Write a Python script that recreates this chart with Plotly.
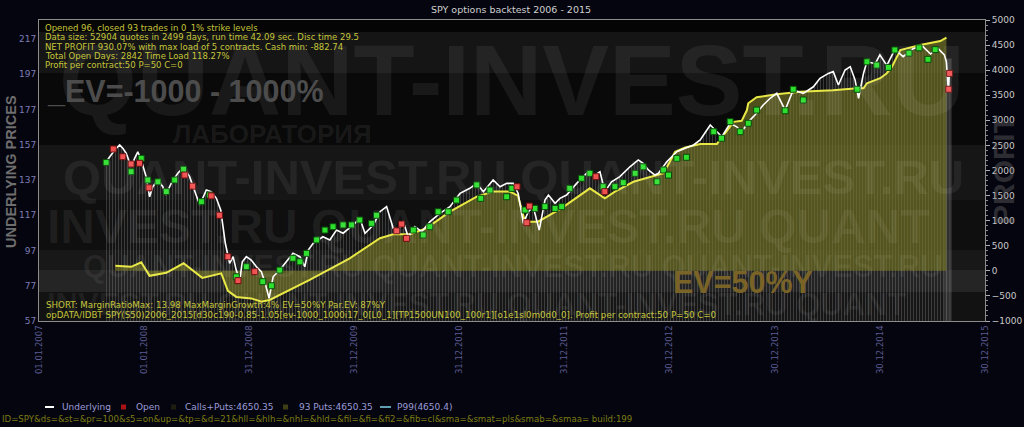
import plotly.graph_objects as go

# ---------------- data ----------------
price_dates = [
    "2007-08-22", "2007-09-03", "2007-09-21", "2007-10-08", "2007-10-19", "2007-10-31", "2007-11-17", "2007-11-29", "2007-12-10", "2007-12-22",
    "2008-01-08", "2008-01-20", "2008-01-31", "2008-02-18", "2008-03-06", "2008-03-16", "2008-04-04", "2008-04-27", "2008-05-17", "2008-06-07",
    "2008-06-30", "2008-07-12", "2008-08-04", "2008-08-21", "2008-09-08", "2008-09-23", "2008-10-01", "2008-10-09", "2008-10-24", "2008-11-05",
    "2008-11-16", "2008-11-28", "2008-12-07", "2008-12-21",
    "2009-01-07", "2009-01-25", "2009-02-11", "2009-02-23", "2009-03-10", "2009-03-24", "2009-04-16", "2009-05-09", "2009-06-01", "2009-06-25",
    "2009-07-12", "2009-07-24", "2009-08-10", "2009-09-13", "2009-10-07", "2009-10-30", "2009-11-22", "2009-12-27",
    "2010-01-19", "2010-02-06", "2010-03-07", "2010-03-30", "2010-04-22", "2010-05-15", "2010-06-01", "2010-06-19", "2010-07-06", "2010-07-29",
    "2010-08-22", "2010-09-19", "2010-10-24", "2010-11-28",
    "2011-01-02", "2011-02-05", "2011-03-01", "2011-03-24", "2011-04-27", "2011-05-21", "2011-06-13", "2011-07-06", "2011-07-23", "2011-08-10",
    "2011-08-27", "2011-09-13", "2011-10-04", "2011-10-24", "2011-11-05", "2011-11-28", "2011-12-15",
    "2012-01-07", "2012-02-11", "2012-03-22", "2012-04-14", "2012-05-02", "2012-05-19", "2012-06-11", "2012-07-10", "2012-08-14", "2012-09-12",
    "2012-09-29", "2012-10-17", "2012-11-09", "2012-11-21", "2012-12-20",
    "2013-01-24", "2013-02-22", "2013-03-23", "2013-04-15", "2013-05-20", "2013-06-06", "2013-06-29", "2013-07-28", "2013-08-20", "2013-09-06",
    "2013-10-05", "2013-10-22", "2013-11-20", "2013-12-14",
    "2014-01-06", "2014-02-04", "2014-03-04", "2014-04-08", "2014-05-13", "2014-06-05", "2014-07-04", "2014-07-21", "2014-08-08", "2014-08-31",
    "2014-09-18", "2014-10-05", "2014-10-17", "2014-11-03", "2014-11-15", "2014-12-14", "2014-12-30",
    "2015-01-23", "2015-02-20", "2015-03-21", "2015-04-24", "2015-05-27", "2015-06-24", "2015-07-18", "2015-08-04", "2015-08-11", "2015-08-18",
    "2015-08-25", "2015-08-28",
]
price_values = [
    147.4, 150.2, 154.0, 156.9, 155.0, 152.1, 144.5, 149.3, 153.0, 148.3,
    138.9, 127.5, 133.2, 137.0, 133.2, 128.5, 135.1, 140.8, 144.2, 138.9,
    128.5, 122.8, 131.3, 130.4, 126.6, 120.0, 110.5, 101.1, 89.7, 93.5,
    85.9, 80.2, 90.6, 93.5,
    91.6, 87.8, 85.0, 79.3, 69.9, 82.1, 85.9, 90.6, 95.4, 93.5,
    87.8, 97.3, 101.1, 104.8, 103.0, 108.6, 106.8, 111.5,
    115.3, 106.8, 111.5, 119.0, 121.9, 109.6, 108.6, 113.3, 104.8, 110.5,
    107.7, 113.3, 118.1, 121.9,
    129.4, 132.3, 135.1, 130.4, 137.0, 133.2, 135.1, 135.1, 129.4, 112.4,
    119.0, 121.9, 108.6, 125.6, 128.5, 123.8, 126.6,
    128.5, 135.1, 141.7, 139.8, 141.7, 130.4, 136.0, 138.9, 144.5, 148.4,
    146.5, 142.7, 139.8, 140.8, 147.4,
    153.1, 155.0, 156.9, 159.7, 168.2, 165.4, 161.6, 169.2, 167.2, 164.4,
    171.0, 173.9, 179.6, 183.4,
    186.2, 176.7, 188.1, 186.2, 189.9, 194.7, 197.5, 198.5, 190.9, 199.4,
    201.3, 193.7, 183.4, 197.5, 204.1, 203.0, 208.0,
    202.0, 211.0, 207.0, 211.5, 213.0, 208.5, 212.0, 209.0, 208.0, 204.0,
    187.0, 197.0,
]

profit_dates = [
    "2007-09-23", "2007-11-17", "2007-12-22", "2008-01-20", "2008-03-18", "2008-05-17", "2008-07-21", "2008-09-25",
    "2008-10-18", "2008-11-16", "2009-01-07", "2009-02-11", "2009-03-12", "2009-07-29", "2009-12-15", "2010-03-30",
    "2010-05-15", "2010-07-12", "2010-09-08", "2010-11-28", "2011-03-01", "2011-04-27", "2011-06-24", "2011-07-22",
    "2011-08-16", "2011-09-30", "2011-12-21", "2012-03-28", "2012-05-19", "2012-06-23", "2012-08-26", "2012-11-16",
    "2012-12-09", "2013-01-18", "2013-02-22", "2013-04-15", "2013-06-12", "2013-08-09", "2013-09-06", "2013-09-24",
    "2013-09-29", "2013-10-28", "2014-01-06", "2014-03-28", "2014-07-20", "2014-10-12", "2014-11-03", "2014-11-15",
    "2014-12-31", "2015-01-23", "2015-02-10", "2015-03-11", "2015-05-19", "2015-07-28", "2015-08-18",
]
profit_values = [
    100, 80, 170, -100, -40, 150, -140, -50,
    -400, -520, -550, -615, -580, -180, 250, 650,
    730, 730, 850, 1180, 1480, 1580, 1580, 1500,
    980, 980, 1250, 1645, 1445, 1580, 1775, 1910,
    1945, 2374, 2460, 2530, 2530, 2970, 2990, 3200,
    3340, 3460, 3520, 3570, 3600, 3640, 3640, 3740,
    3840, 3940, 4070, 4400, 4500, 4580, 4650,
]

closed_dates = [
    "2007-08-22", "2007-11-17", "2007-12-22", "2008-01-14", "2008-02-18", "2008-03-18", "2008-04-16", "2008-05-17",
    "2008-07-18", "2008-08-15", "2008-11-16", "2008-12-21", "2009-02-16", "2009-03-18", "2009-04-16", "2009-06-01",
    "2009-06-25", "2009-07-18", "2009-08-22", "2009-09-20", "2009-10-18", "2009-11-22", "2009-12-21", "2010-01-19",
    "2010-03-01", "2010-03-18", "2010-07-24", "2010-08-27", "2010-09-19", "2010-10-18", "2010-11-22", "2010-12-21",
    "2011-03-01", "2011-03-15", "2011-04-16", "2011-06-13", "2011-07-01", "2011-08-16", "2011-09-19", "2011-10-24",
    "2011-11-28", "2011-12-21", "2012-01-18", "2012-02-28", "2012-03-28", "2012-05-13", "2012-06-23", "2012-07-22",
    "2012-09-01", "2012-09-29", "2012-11-16", "2012-12-09", "2012-12-26", "2013-01-24", "2013-02-26", "2013-06-01",
    "2013-06-28", "2013-07-28", "2013-09-01", "2013-09-29", "2013-10-28", "2014-02-04", "2014-03-04", "2014-04-08",
    "2014-10-12", "2014-11-15", "2014-12-19", "2015-01-29", "2015-02-20", "2015-04-10", "2015-05-15", "2015-06-15",
    "2015-07-10",
]
closed_values = [
    147.0, 141.7, 149.3, 137.0, 136.0, 130.4, 137.0, 143.1,
    124.7, 128.5, 82.1, 87.8, 79.3, 77.0, 85.9, 92.6,
    90.6, 95.4, 103.0, 108.6, 110.5, 111.5, 111.5, 114.3,
    112.4, 117.0, 108.6, 105.8, 110.5, 119.0, 119.0, 125.6,
    134.2, 126.6, 131.3, 127.5, 132.3, 120.0, 120.9, 121.9,
    120.9, 121.9, 132.3, 138.0, 140.8, 133.2, 133.2, 135.5,
    140.8, 144.5, 136.0, 142.7, 139.8, 149.3, 149.9, 164.4,
    160.7, 170.1, 164.4, 169.2, 176.7, 176.3, 188.5, 182.4,
    188.5, 204.1, 202.2, 200.9, 210.8, 209.0, 212.0, 205.5,
    211.0,
]

open_dates = [
    "2007-09-16", "2007-10-19", "2007-11-17", "2007-12-16", "2008-01-18", "2008-05-21", "2008-06-17", "2008-08-21",
    "2008-09-19", "2008-10-18", "2008-11-22", "2009-01-19", "2010-05-27", "2010-06-13", "2010-06-30", "2011-07-19",
    "2011-08-22", "2011-08-31", "2012-04-18", "2012-05-19", "2015-08-26", "2015-08-29",
]
open_values = [
    154.6, 150.2, 146.1, 146.5, 132.6, 139.8, 133.5, 128.0,
    117.0, 93.5, 79.9, 85.0, 108.2, 112.0, 103.9, 133.2,
    112.8, 122.2, 138.9, 130.4, 188.5, 197.5,
]

open_period = ["2015-08-10", "2015-09-05"]

tick_dates = ["2007-01-01", "2008-01-01", "2008-12-31", "2009-12-31", "2010-12-31",
              "2011-12-31", "2012-12-30", "2013-12-30", "2014-12-30", "2015-12-30"]
tick_labels = ["01.01.2007", "01.01.2008", "31.12.2008", "31.12.2009", "31.12.2010",
               "31.12.2011", "30.12.2012", "30.12.2013", "30.12.2014", "30.12.2015"]

final_calls_puts = 4650.35
final_puts = 4650.35
n_puts = 93
p99_final = 4650.4

info_lines = [
    "Opened 96, closed 93 trades in 0_1% strike levels",
    "Data size: 52904 quotes in 2499 days, run time 42.09 sec. Disc time 29.5",
    "NET PROFIT 930.07% with max load of 5 contracts. Cash min: -882.74",
    "Total Open Days: 2842 Time Load 118.27%",
    "Profit per contract:50 P=50 C=0",
]
bottom_lines = [
    "SHORT: MarginRatioMax: 13.98 MaxMarginGrowth:4% EV=50%Y Par.EV: 87%Y",
    "opDATA/IDBT SPY(S50)2006_2015[d30c190-0.85-1.05[ev-1000_1000i17_0[L0_1][TP1500UN100_100r1][o1e1sl0m0d0_0]. Profit per contract:50 P=50 C=0",
]
query_line = "ID=SPY&ds=&st=&pr=100&s5=on&up=&tp=&d=21&hll=&hlh=&nhl=&hld=&fil=&fi=&fi2=&fib=cl&sma=&smat=pls&smab=&smaa= build:199"

legend_names = ["Underlying", "Open", f"Calls+Puts:{final_calls_puts}", f"{n_puts} Puts:{final_puts}", f"P99({p99_final})"]

# ---------------- layout helpers (pixel -> paper) ----------------
L, R, T, B = 39, 39, 20, 106
W, H = 1024, 427
PW, PH = W - L - R, H - T - B


def px(x):
    return (x - L) / PW


def py(y):
    return (H - B - y) / PH


fig = go.Figure()

# grey striped area under underlying
fig.add_trace(go.Scatter(
    x=price_dates, y=price_values, yaxis="y", mode="lines",
    line=dict(width=0, color="rgba(0,0,0,0)"), fill="tozeroy",
    fillcolor="rgba(40,40,40,0.35)",
    fillpattern=dict(shape="|", fgcolor="rgba(165,165,165,0.6)", bgcolor="rgba(30,30,30,0.3)", size=3, solidity=0.3),
    showlegend=False, hoverinfo="skip"))

# olive profit area + yellow line
fig.add_trace(go.Scatter(
    x=profit_dates, y=profit_values, yaxis="y2", mode="lines",
    line=dict(color="#e8e845", width=2), fill="tozeroy",
    fillcolor="rgba(125,125,40,0.62)", showlegend=False, hoverinfo="skip"))

# underlying white line
fig.add_trace(go.Scatter(
    x=price_dates, y=price_values, yaxis="y3", mode="lines",
    line=dict(color="#ffffff", width=1.6), name=legend_names[0], showlegend=False))

# closed trades (green)
fig.add_trace(go.Scatter(
    x=closed_dates, y=closed_values, yaxis="y3", mode="markers",
    marker=dict(symbol="square", size=6, color="#2ee02e", line=dict(color="#0b4a0b", width=1)),
    showlegend=False))

# open trades (red)
fig.add_trace(go.Scatter(
    x=open_dates, y=open_values, yaxis="y3", mode="markers",
    marker=dict(symbol="square", size=6, color="#f05050", line=dict(color="#6a1010", width=1)),
    name=legend_names[1], showlegend=False))

# background bands (watermark image)
bands = [(20, 32, "#050505"), (32, 73, "#151515"), (73, 145, "#090909"), (145, 200, "#161616"),
         (200, 250, "#0f0f0f"), (250, 270, "#181818"), (270, 292, "#252525"), (292, 321, "#121212")]
shapes = []
for y0, y1, c in bands:
    shapes.append(dict(type="rect", xref="paper", yref="paper", x0=0, x1=1, y0=py(y1), y1=py(y0),
                       fillcolor=c, line=dict(width=0), layer="below"))
shapes.append(dict(type="rect", xref="x", yref="y", x0=open_period[0], x1=open_period[1], y0=57, y1=206,
                   fillcolor="rgba(150,150,150,0.30)", line=dict(width=0), layer="below"))

wm = "rgba(255,255,255,0.065)"
ann = []
# watermark rows
ann.append(dict(text="QUANT-INVEST.RU", x=px(512), y=py(80), xanchor="center", yanchor="middle",
                font=dict(family="Liberation Sans", size=100, color=wm, weight="bold")))
ann.append(dict(text="ЛАБОРАТОРИЯ", x=px(272), y=py(134), xanchor="center", yanchor="middle",
                font=dict(family="Liberation Sans", size=26, color="rgba(255,255,255,0.075)", weight="bold")))
ann.append(dict(text="QUANT-INVEST.RU QUANT-INVEST.RU", x=px(513), y=py(177), xanchor="center", yanchor="middle",
                font=dict(family="Liberation Sans", size=49, color=wm, weight="bold")))
ann.append(dict(text="INVEST.RU QUANT-INVEST.RU QUANT", x=px(45), y=py(226), xanchor="left", yanchor="middle",
                font=dict(family="Liberation Sans", size=48, color=wm, weight="bold")))
ann.append(dict(text="QUANT-INVEST.RU QUANT-INVEST.RU QUANT-INVEST.RU", x=px(512), y=py(266), xanchor="center", yanchor="middle",
                font=dict(family="Liberation Sans", size=31, color=wm, weight="bold")))
ann.append(dict(text="INVEST.RU QUANT-INVEST.RU QUANT-INVEST.RU QUANT", x=px(45), y=py(304), xanchor="left", yanchor="middle",
                font=dict(family="Liberation Sans", size=31, color=wm, weight="bold")))

ann.append(dict(text="_EV=-1000 - 1000%", x=px(45), y=py(91), xanchor="left", yanchor="middle",
                font=dict(family="Liberation Sans", size=30.5, color="#4c4c4c", weight="bold")))
ann.append(dict(text="EV=50%Y", x=px(743), y=py(282), xanchor="center", yanchor="middle",
                font=dict(family="Liberation Sans", size=30.5, color="#7a6327", weight="bold")))

for i, t in enumerate(info_lines):
    ann.append(dict(text=t, x=px(43), y=py(28 + 9.3 * i), xanchor="left", yanchor="middle",
                    font=dict(family="DejaVu Sans", size=8.5, color="#c6c63a")))
for i, t in enumerate(bottom_lines):
    ann.append(dict(text=t, x=px(44), y=py(305 + 9.5 * i), xanchor="left", yanchor="middle",
                    font=dict(family="DejaVu Sans", size=8.7, color="#c6c63a")))

ann.append(dict(text="SPY options backtest 2006 - 2015", x=px(511), y=py(9), xanchor="center", yanchor="middle",
                font=dict(family="DejaVu Sans", size=9.5, color="#d0d0d0")))
ann.append(dict(text="UNDERLYING PRICES", x=px(11), y=py(172), xanchor="center", yanchor="middle", textangle=-90,
                font=dict(family="Liberation Sans", size=14.5, color="#6e6e6e", weight="bold")))
ann.append(dict(text="PROFIT", x=px(1003), y=py(170), xanchor="center", yanchor="middle", textangle=-90,
                font=dict(family="Liberation Sans", size=30, color="rgba(110,110,110,0.4)", weight="bold")))
ann.append(dict(text=query_line, x=px(0), y=py(419), xanchor="left", yanchor="middle",
                font=dict(family="DejaVu Sans", size=8.6, color="#7c7c12")))

# legend (drawn manually to match the compact layout)
leg_y = 407
leg_color = "#9c9cd8"
legend_text_x = [60, 134, 183, 297, 395]
for name, lx in zip(legend_names, legend_text_x):
    ann.append(dict(text=name, x=px(lx), y=py(leg_y), xanchor="left", yanchor="middle",
                    font=dict(family="DejaVu Sans", size=9, color=leg_color)))
legend_symbols = [
    ("line", 45, 54, "#ffffff"),
    ("rect", 121, 126, "#a81212"),
    ("rect", 171, 176, "#1e1e10"),
    ("rect", 283, 288, "#3e3e16"),
    ("line", 380, 391, "#5f9fb2"),
]
for kind, x0, x1, c in legend_symbols:
    if kind == "line":
        shapes.append(dict(type="line", xref="paper", yref="paper", x0=px(x0), x1=px(x1), y0=py(leg_y), y1=py(leg_y),
                           line=dict(color=c, width=2)))
    else:
        shapes.append(dict(type="rect", xref="paper", yref="paper", x0=px(x0), x1=px(x1), y0=py(leg_y + 2.5),
                           y1=py(leg_y - 2.5), fillcolor=c, line=dict(width=0)))

for a in ann:
    a.update(xref="paper", yref="paper", showarrow=False)

axis_line = "#8c8c8c"
fig.update_layout(
    width=W, height=H, margin=dict(l=L, r=R, t=T, b=B, pad=0, autoexpand=False),
    paper_bgcolor="#05050f", plot_bgcolor="#000000",
    font=dict(family="DejaVu Sans"),
    xaxis=dict(type="date", range=["2007-01-01", "2015-12-30"], tickvals=tick_dates, ticktext=tick_labels,
               tickangle=-90, tickfont=dict(size=8.5, color="#5c5c92"), showgrid=False, zeroline=False,
               showline=True, linecolor=axis_line, mirror=True, ticks="", automargin=False),
    yaxis=dict(range=[57, 227.8], tick0=57, dtick=20, showgrid=False, zeroline=False, showline=True,
               linecolor=axis_line, ticks="", tickfont=dict(size=9, color="#7c7cb6"), automargin=False),
    yaxis2=dict(overlaying="y", side="right", range=[-1000, 5000], tick0=0, dtick=500, showgrid=False,
                zeroline=False, showline=True, linecolor=axis_line, ticks="outside", ticklen=4,
                tickcolor="#b0b0b0", minor=dict(dtick=100, ticks="outside", ticklen=2, tickcolor="#8a8a8a"),
                tickfont=dict(size=9, color="#c8c8c8"), automargin=False),
    yaxis3=dict(overlaying="y", range=[57, 227.8], visible=False, automargin=False),
    shapes=shapes, annotations=ann, showlegend=False, hovermode=False,
)

fig.write_html("out.html")
